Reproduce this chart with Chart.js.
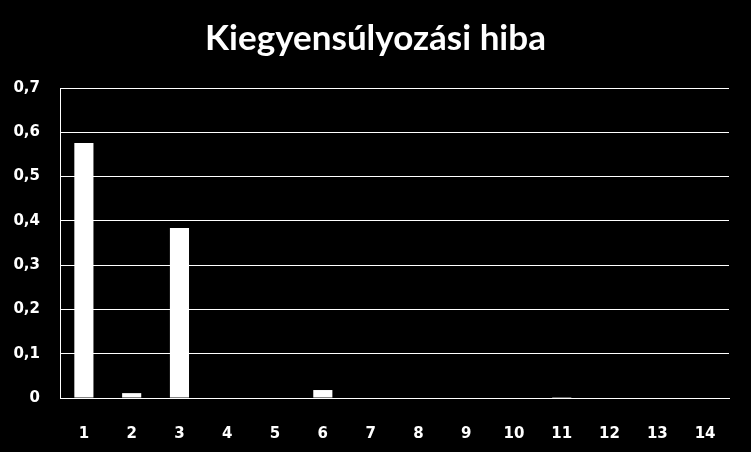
<!DOCTYPE html>
<html>
<head>
<meta charset="utf-8">
<script src="https://cdn.jsdelivr.net/npm/chart.js@4"></script>
<style>
  html, body { margin: 0; padding: 0; background: #000; }
  #wrap { width: 751px; height: 452px; }
</style>
</head>
<body>
<div id="wrap"><canvas id="chart" width="751" height="452"></canvas></div>
<script>
// chart data
const categories = ["1", "2", "3", "4", "5", "6", "7", "8", "9", "10", "11", "12", "13", "14"];
const hibaValues = [0.576, 0.011, 0.384, 0, 0, 0.018, 0, 0, 0, 0, 0.002, 0, 0, 0];
const yTicks = [0, 0.1, 0.2, 0.3, 0.4, 0.5, 0.6, 0.7];
const titleText = "Kiegyensúlyozási hiba";

const labelFont = { family: "DejaVu Sans", size: 15, weight: "bold" };

new Chart(document.getElementById("chart"), {
  type: "bar",
  data: {
    labels: categories,
    datasets: [{
      data: hibaValues,
      backgroundColor: "#ffffff",
      borderWidth: 0,
      categoryPercentage: 1,
      barPercentage: 0.4
    }]
  },
  options: {
    responsive: false,
    animation: false,
    devicePixelRatio: 1,
    layout: { padding: 0 },
    plugins: {
      legend: { display: false },
      tooltip: { enabled: false },
      title: {
        display: true,
        text: titleText,
        color: "#ffffff",
        font: { family: "Lato", size: 35, weight: "bold" },
        padding: { top: 18, bottom: 28 }
      }
    },
    scales: {
      x: {
        grid: { display: false },
        border: { display: true, color: "#ffffff", width: 1 },
        ticks: { color: "#ffffff", font: labelFont, padding: 19, maxRotation: 0 },
        afterFit: s => { s.height = 54; }
      },
      y: {
        min: 0,
        max: 0.7,
        afterBuildTicks: s => { s.ticks = yTicks.map(v => ({ value: v })); },
        grid: { color: "#ffffff", lineWidth: 1, drawTicks: false },
        border: { display: true, color: "#ffffff", width: 1 },
        ticks: {
          color: "#ffffff",
          font: labelFont,
          padding: 20,
          callback: v => v === 0 ? "0" : v.toFixed(1).replace(".", ",")
        },
        afterFit: s => { s.width = 60; }
      },
      // empty right margin so the title stays centred on the page
      yRight: {
        position: "right",
        grid: { display: false },
        border: { display: false },
        ticks: { display: false },
        afterFit: s => { s.width = 22; }
      }
    }
  }
});
</script>
</body>
</html>
